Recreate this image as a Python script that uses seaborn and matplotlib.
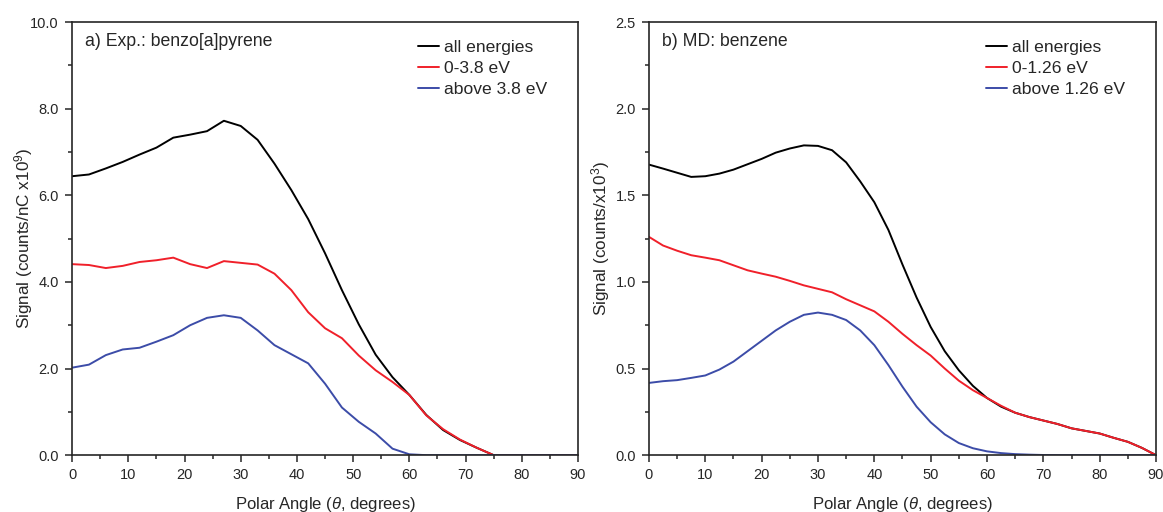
import numpy as np
import pandas as pd
import matplotlib
matplotlib.use('Agg')
import matplotlib.pyplot as plt
import seaborn as sns
from matplotlib.ticker import MultipleLocator, FormatStrFormatter

# a) Exp.: benzo[a]pyrene, sampled every 3 degrees
angle_exp = np.arange(0, 91, 3)
exp_all = [6.44, 6.48, 6.62, 6.77, 6.94, 7.10, 7.33, 7.40, 7.48, 7.72, 7.60,
           7.28, 6.73, 6.12, 5.45, 4.66, 3.81, 3.02, 2.32, 1.80, 1.39, 0.93,
           0.58, 0.35, 0.17, 0, 0, 0, 0, 0, 0]
exp_low = [4.41, 4.39, 4.32, 4.37, 4.46, 4.50, 4.56, 4.41, 4.32, 4.48, 4.44,
           4.40, 4.19, 3.81, 3.30, 2.93, 2.70, 2.30, 1.96, 1.69, 1.39, 0.92,
           0.60, 0.36, 0.17, 0, 0, 0, 0, 0, 0]
exp_high = [2.02, 2.09, 2.31, 2.44, 2.48, 2.62, 2.77, 3.00, 3.17, 3.23, 3.17,
            2.88, 2.54, 2.33, 2.12, 1.65, 1.10, 0.77, 0.50, 0.15, 0.02, 0,
            0, 0, 0, 0, 0, 0, 0, 0, 0]
exp_labels = ['all energies', '0-3.8 eV', 'above 3.8 eV']

# b) MD: benzene, sampled every 2.5 degrees
angle_md = np.arange(0, 90.1, 2.5)
md_all = [1.677, 1.654, 1.63, 1.606, 1.61, 1.625, 1.648, 1.679, 1.71, 1.746,
          1.77, 1.788, 1.785, 1.76, 1.69, 1.58, 1.46, 1.30, 1.10, 0.91, 0.74,
          0.60, 0.49, 0.40, 0.33, 0.28, 0.245, 0.22, 0.20, 0.18, 0.155, 0.14,
          0.125, 0.10, 0.077, 0.042, 0]
md_low = [1.26, 1.21, 1.18, 1.154, 1.14, 1.125, 1.096, 1.067, 1.048, 1.03,
          1.006, 0.98, 0.96, 0.94, 0.90, 0.865, 0.83, 0.77, 0.70, 0.635, 0.575,
          0.50, 0.43, 0.375, 0.33, 0.285, 0.245, 0.22, 0.20, 0.18, 0.155, 0.14,
          0.125, 0.10, 0.077, 0.042, 0]
md_high = [0.417, 0.427, 0.433, 0.446, 0.46, 0.494, 0.54, 0.60, 0.66, 0.72,
           0.77, 0.81, 0.823, 0.81, 0.78, 0.72, 0.635, 0.52, 0.395, 0.28, 0.19,
           0.12, 0.07, 0.04, 0.022, 0.012, 0.006, 0.003, 0.001, 0, 0, 0, 0, 0,
           0, 0, 0]
md_labels = ['all energies', '0-1.26 eV', 'above 1.26 eV']

colors = ['#000000', '#f0202a', '#3c4ca8']

sns.set_style('ticks')
plt.rcParams['font.family'] = ['Liberation Sans', 'DejaVu Sans']
plt.rcParams['mathtext.fontset'] = 'custom'
plt.rcParams['mathtext.rm'] = 'Liberation Sans'
plt.rcParams['mathtext.it'] = 'Liberation Sans:italic'


def draw_panel(ax, x, series, labels, ymax, ystep, title, ylabel):
    for y, lab, c in zip(series, labels, colors):
        df = pd.DataFrame({'angle': x, 'signal': y})
        sns.lineplot(data=df, x='angle', y='signal', ax=ax, color=c,
                     linewidth=1.4, label=lab)
    ax.set_xlim(0, 90)
    ax.set_ylim(0, ymax)
    ax.xaxis.set_major_locator(MultipleLocator(10))
    ax.xaxis.set_minor_locator(MultipleLocator(5))
    ax.yaxis.set_major_locator(MultipleLocator(ystep))
    ax.yaxis.set_minor_locator(MultipleLocator(ystep / 2))
    ax.yaxis.set_major_formatter(FormatStrFormatter('%.1f'))
    ax.tick_params(which='major', direction='out', length=5, width=1.1,
                   labelsize=10.5, pad=4.5, top=False, right=False)
    ax.tick_params(which='minor', direction='out', length=3, width=1.1,
                   top=False, right=False)
    for s in ax.spines.values():
        s.set_linewidth(1.2)
        s.set_color('#262626')
    ax.set_xlabel(r'Polar Angle ($\theta$, degrees)', fontsize=12)
    ax.xaxis.set_label_coords(0.5, -0.092)
    ax.set_ylabel(ylabel, fontsize=12.3)
    ax.yaxis.set_label_coords(-0.073, 0.5)
    ax.text(0.025, 0.975, title, transform=ax.transAxes, fontsize=12.7,
            va='top', ha='left')
    ax.legend(loc='upper right', frameon=False, fontsize=12.6,
              handlelength=1.2, handletextpad=0.3, labelspacing=0.33,
              bbox_to_anchor=(0.97, 0.995))


fig = plt.figure(figsize=(11.63, 5.12), dpi=100)
ax1 = fig.add_axes([0.062, 0.111, 0.435, 0.846])
ax2 = fig.add_axes([0.558, 0.111, 0.436, 0.846])

draw_panel(ax1, angle_exp, [exp_all, exp_low, exp_high], exp_labels, 10, 2,
           'a) Exp.: benzo[a]pyrene', r'Signal (counts/nC x10$^9$)')
draw_panel(ax2, angle_md, [md_all, md_low, md_high], md_labels, 2.5, 0.5,
           'b) MD: benzene', r'Signal (counts/x10$^3$)')

fig.savefig('out.png', dpi=100)
